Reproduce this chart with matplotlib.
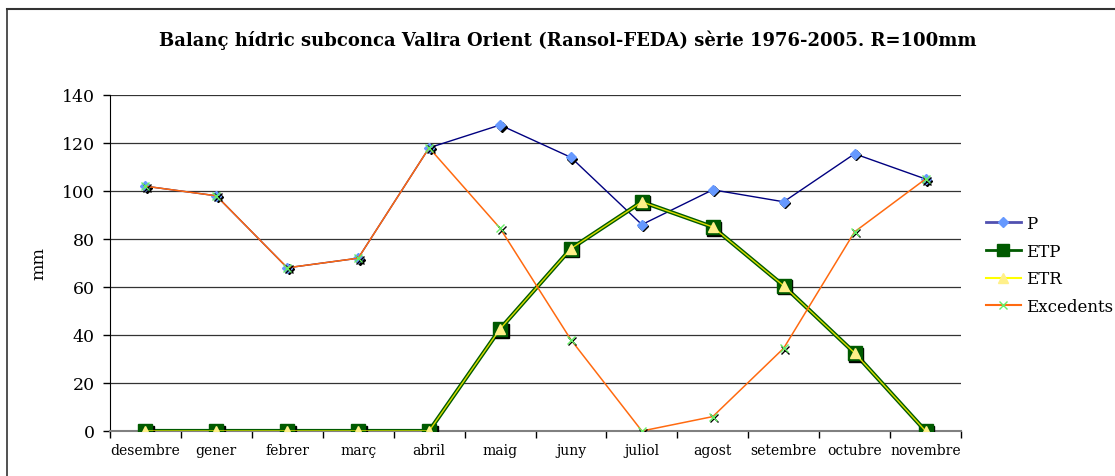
import numpy as np
import matplotlib
matplotlib.use('Agg')
import matplotlib.pyplot as plt
import matplotlib.transforms as mtransforms
from matplotlib.lines import Line2D

plt.rcParams['font.family'] = 'DejaVu Serif'

# data
mesos = ['desembre', 'gener', 'febrer', 'març', 'abril', 'maig', 'juny',
         'juliol', 'agost', 'setembre', 'octubre', 'novembre']
P = [102, 98, 68, 72, 118, 127.5, 114, 86, 100.5, 95.5, 115.5, 105]
ETP = [0, 0, 0, 0, 0, 42.5, 76, 95.5, 85, 60.5, 32.5, 0]
ETR = [0, 0, 0, 0, 0, 42.5, 76, 95.5, 85, 60.5, 32.5, 0]
Excedents = [102, 98, 68, 72, 118, 84.5, 38, 0, 6, 34.5, 83, 105]

fig = plt.figure(figsize=(11.15, 4.77), dpi=100)
ax = fig.add_axes([110/1115, 45/477, 851/1115, 336/477])

x = np.arange(len(mesos))

# black marker shadows, offset down-right
shadow = ax.transData + mtransforms.ScaledTranslation(1.5/100, -1.5/100, fig.dpi_scale_trans)

### P ###
ax.plot(x, P, '-', color='#000080', lw=1.0, zorder=3)
ax.plot(x, P, 'D', ls='none', color='k', ms=5, transform=shadow, zorder=3)
ax.plot(x, P, 'D', ls='none', color='#6699FF', ms=5, zorder=3)

### ETP ###
ax.plot(x, ETP, '-', color='#005A00', lw=3.0, zorder=4)
ax.plot(x, ETP, 's', ls='none', color='k', ms=9.5, transform=shadow, zorder=4)
ax.plot(x, ETP, 's', ls='none', color='#005A00', mec='#005A00', ms=9.5, zorder=4)

### ETR ###
ax.plot(x, ETR, '-', color='#DDDD00', lw=1.0, zorder=5)
ax.plot(x, ETR, '^', ls='none', color='#FFF08A', ms=6.5, zorder=5)

### Excedents ###
ax.plot(x, Excedents, '-', color='#FF6A10', lw=1.1, zorder=6)
ax.plot(x, Excedents, 'x', ls='none', color='k', ms=6, mew=1.0, transform=shadow, zorder=6)
ax.plot(x, Excedents, 'x', ls='none', color='#66EE66', ms=6, mew=1.0, zorder=6)

ax.set_xlim(-0.5, len(mesos) - 0.5)
ax.set_ylim(0, 140)
ax.set_yticks(np.arange(0, 141, 20))
ax.tick_params(axis='y', labelsize=12.5, length=5, direction='out', width=1, pad=6)
ax.set_xticks(x)
ax.set_xticklabels(mesos, fontsize=10)
ax.tick_params(axis='x', which='major', length=0, pad=9)
ax.set_xticks(np.arange(-0.5, len(mesos), 1), minor=True)
ax.tick_params(axis='x', which='minor', length=5, direction='out', width=1)
ax.yaxis.grid(True, color='#333333', lw=0.9)
ax.set_axisbelow(True)
for s in ['top', 'right']:
    ax.spines[s].set_visible(False)
ax.spines['bottom'].set_color('#808080')
ax.spines['bottom'].set_linewidth(1.5)
ax.set_ylabel('mm', fontsize=12.5, labelpad=10)

fig.suptitle('Balanç hídric subconca Valira Orient (Ransol-FEDA) sèrie 1976-2005. R=100mm',
             fontsize=13, fontweight='bold', x=568/1115, y=1 - 40/477, va='center')

# legend
handles = [
    Line2D([], [], color='#5050B0', lw=2, marker='D', ms=5, mfc='#6699FF', mec='#6699FF'),
    Line2D([], [], color='#005A00', lw=2, marker='s', ms=8, mfc='#005A00', mec='#005A00'),
    Line2D([], [], color='#FFFF00', lw=1.5, marker='^', ms=7, mfc='#FFF08A', mec='#FFF08A'),
    Line2D([], [], color='#FF6A10', lw=1.5, marker='x', ms=6, mec='#66EE66', mew=1),
]
fig.legend(handles, ['P', 'ETP', 'ETR', 'Excedents'], loc='center left',
           bbox_to_anchor=(979/1115, 1 - 266/477), frameon=False, fontsize=12,
           handlelength=2.1, handletextpad=0.3, labelspacing=0.65, borderaxespad=0)

# chart area border
fig.add_artist(Line2D([7/1115, 7/1115], [0, 1 - 10/477], transform=fig.transFigure, color='#333333', lw=1.2))
fig.add_artist(Line2D([7/1115, 1], [1 - 10/477, 1 - 10/477], transform=fig.transFigure, color='#333333', lw=1.5))

fig.savefig('out.png', dpi=100)
